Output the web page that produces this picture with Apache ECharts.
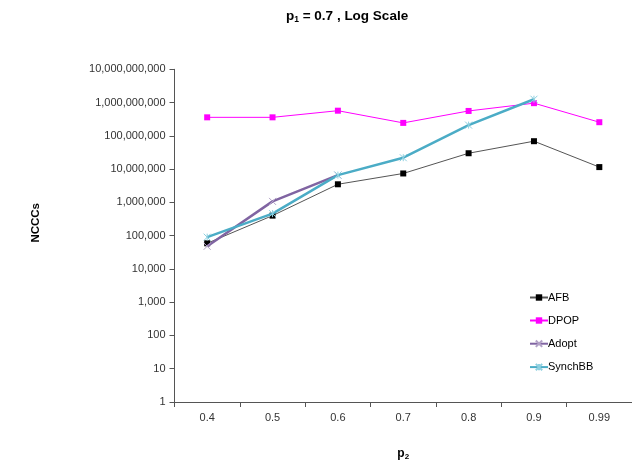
<!DOCTYPE html>
<html><head><meta charset="utf-8">
<script src="https://cdn.jsdelivr.net/npm/echarts@6/dist/echarts.min.js"></script>
<style>html,body{margin:0;padding:0;background:#fff}#c{width:632px;height:466px}</style>
</head><body><div id="c"></div>
<script>
const categories = ['0.4','0.5','0.6','0.7','0.8','0.9','0.99'];
const afb = [59000, 400000, 3500000, 7400000, 30000000, 69000000, 11500000];
const dpop = [360000000, 360000000, 570000000, 245000000, 560000000, 960000000, 257000000];
const adopt = [48000, 1070000, 6600000, null, null, null, null];
const synchbb = [90000, 460000, 6600000, 22000000, 210000000, 1260000000, null];

const FONT = '"Liberation Sans", Arial, sans-serif';
const xPath = 'path://M0,0L10,10M10,0L0,10';
const starPath = 'path://M0,0L10,10M10,0L0,10M5,0L5,10';

const chart = echarts.init(document.getElementById('c'), null, {renderer:'canvas'});
chart.setOption({
  animation:false,
  backgroundColor:'#fff',
  textStyle:{fontFamily:FONT},
  title:{
    text:'{a|p}{s|1}{a| = 0.7 , Log Scale}',
    left:281, top:3,
    textStyle:{rich:{
      a:{fontFamily:FONT,fontWeight:'bold',fontSize:13.5,color:'#000'},
      s:{fontFamily:FONT,fontWeight:'bold',fontSize:8.5,color:'#000',verticalAlign:'bottom',padding:[7,0,0,0]}
    }}
  },
  graphic:[
    {type:'text',left:30,top:203,rotation:Math.PI/2,
      style:{text:'NCCCs',font:'bold 11.5px "Liberation Sans", Arial, sans-serif',fill:'#000'}}
  ],
  grid:{left:174.5, top:69.3, width:464, height:333.5},
  legend:{
    orient:'vertical', left:524, top:287, itemGap:12, itemWidth:18, itemHeight:8,
    textStyle:{fontFamily:FONT,fontSize:11,color:'#000',padding:[0,0,0,-5]},
    data:['AFB','DPOP','Adopt','SynchBB']
  },
  xAxis:{
    type:'category', data:categories, boundaryGap:true,
    axisLine:{lineStyle:{color:'#555',width:1}},
    axisTick:{show:true,interval:0,length:5,lineStyle:{color:'#555'}},
    axisLabel:{fontFamily:FONT,fontSize:11,color:'#333',margin:10},
    name:'{a|p}{s|2}', nameLocation:'middle', nameGap:45,
    nameTextStyle:{rich:{
      a:{fontFamily:FONT,fontWeight:'bold',fontSize:12,color:'#000'},
      s:{fontFamily:FONT,fontWeight:'bold',fontSize:8,color:'#000',verticalAlign:'bottom',padding:[6,0,0,0]}
    }}
  },
  yAxis:{
    type:'log', logBase:10, min:1, max:1e10, interval:1, splitNumber:10,
    axisLine:{show:true,lineStyle:{color:'#555',width:1}},
    axisTick:{show:true,length:5,lineStyle:{color:'#555'}},
    splitLine:{show:false},
    axisLabel:{fontFamily:FONT,fontSize:11,color:'#333',margin:9,
      formatter:v=>Math.round(v).toLocaleString('en-US')}
  },
  series:[
    {name:'AFB',type:'line',data:afb,symbol:'rect',symbolSize:6,
      lineStyle:{color:'#555',width:1},itemStyle:{color:'#000'},z:3},
    {name:'DPOP',type:'line',data:dpop,symbol:'rect',symbolSize:6,
      lineStyle:{color:'#ff00ff',width:1},itemStyle:{color:'#ff00ff'},z:2},
    {name:'Adopt',type:'line',data:adopt,symbol:xPath,symbolSize:7,connectNulls:false,
      lineStyle:{color:'#8064a2',width:2.5},itemStyle:{color:'none',borderColor:'#b3a2c7',borderWidth:1},z:4},
    {name:'SynchBB',type:'line',data:synchbb,symbol:starPath,symbolSize:7,
      lineStyle:{color:'#4bacc6',width:2.5},itemStyle:{color:'none',borderColor:'#8fd0e0',borderWidth:1},z:5}
  ]
});
</script></body></html>
